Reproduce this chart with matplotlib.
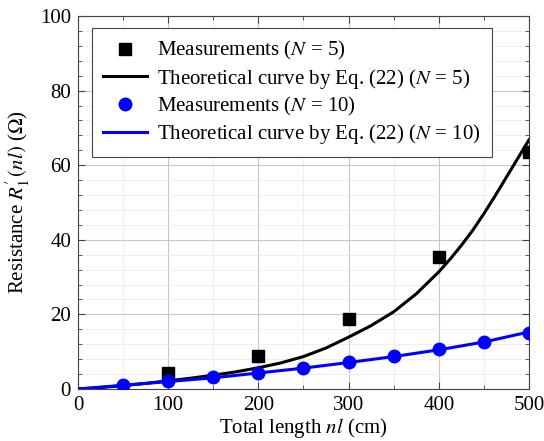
import numpy as np
import matplotlib
matplotlib.use('Agg')
import matplotlib.pyplot as plt
from matplotlib.ticker import MultipleLocator

plt.rcParams['font.family'] = ['Liberation Serif', 'DejaVu Serif']
plt.rcParams['mathtext.fontset'] = 'stix'

## measurements ##
x5 = [100, 200, 300, 400, 500]
y5 = [4.2, 8.8, 18.8, 35.5, 63.5]
x10 = [50, 100, 150, 200, 250, 300, 350, 400, 450, 500]
y10 = [1.05, 2.1, 3.1, 4.4, 5.7, 7.2, 8.8, 10.6, 12.5, 14.9]

## theoretical curves ##
xt5 = [0, 25, 50, 75, 100, 125, 150, 175, 200, 225, 250, 275, 300, 325, 350,
       375, 400, 412.5, 425, 437.5, 450, 462.5, 475, 487.5, 500]
yt5 = [0, 0.4, 0.9, 1.5, 2.2, 2.9, 3.7, 4.6, 5.7, 7.0, 8.7, 11.0, 13.9, 17.0, 20.7,
       25.5, 31.4, 34.8, 38.5, 42.5, 47.0, 51.8, 56.8, 61.8, 66.8]
xt10 = [0, 50, 100, 150, 200, 250, 300, 350, 400, 450, 500]
yt10 = [0, 1.0, 2.0, 3.0, 4.3, 5.6, 7.1, 8.7, 10.5, 12.6, 15.3]

fig = plt.figure(figsize=(5.44, 4.41), dpi=100)
ax = fig.add_axes([0.1434, 0.1179, 0.829, 0.8458])

ax.plot(x5, y5, 's', color='k', ms=8, label=r'Measurements ($N$ = 5)', zorder=4)
ax.plot(xt5, yt5, '-', color='k', lw=2.2, label=r'Theoretical curve by Eq. (22) ($N$ = 5)', zorder=3)
ax.plot(x10, y10, 'o', color='blue', ms=9, label=r'Measurements ($N$ = 10)', zorder=4)
ax.plot(xt10, yt10, '-', color='blue', lw=2.2, label=r'Theoretical curve by Eq. (22) ($N$ = 10)', zorder=3)

ax.set_xlim(0, 500)
ax.set_ylim(0, 100)
ax.xaxis.set_major_locator(MultipleLocator(100))
ax.xaxis.set_minor_locator(MultipleLocator(50))
ax.yaxis.set_major_locator(MultipleLocator(20))
ax.yaxis.set_minor_locator(MultipleLocator(4))
ax.grid(which='major', color='#c8c8c8', lw=0.8)
ax.grid(which='minor', color='#ececec', lw=0.6)
ax.set_axisbelow(True)
ax.tick_params(which='both', direction='in', top=True, right=True, labelsize=15,
               color='#444444', pad=5)
ax.tick_params(which='major', length=5)
ax.tick_params(which='minor', length=3)
for s in ax.spines.values():
    s.set_color('#444444')

ax.set_xlabel(r'Total length $nl$ (cm)', fontsize=15, labelpad=1)
ax.set_ylabel(r"Resistance $R^{\prime}_{1}\,(nl)$ ($\Omega$)", fontsize=15, labelpad=6)

leg = ax.legend(loc='upper left', bbox_to_anchor=(0.031, 0.968), borderaxespad=0,
                fontsize=15, frameon=True, fancybox=False, edgecolor='#444444',
                framealpha=1, handlelength=2.1, handletextpad=0.45,
                labelspacing=0.2, borderpad=0.55)
leg.get_frame().set_linewidth(0.8)

plt.savefig('out.png', dpi=100)
